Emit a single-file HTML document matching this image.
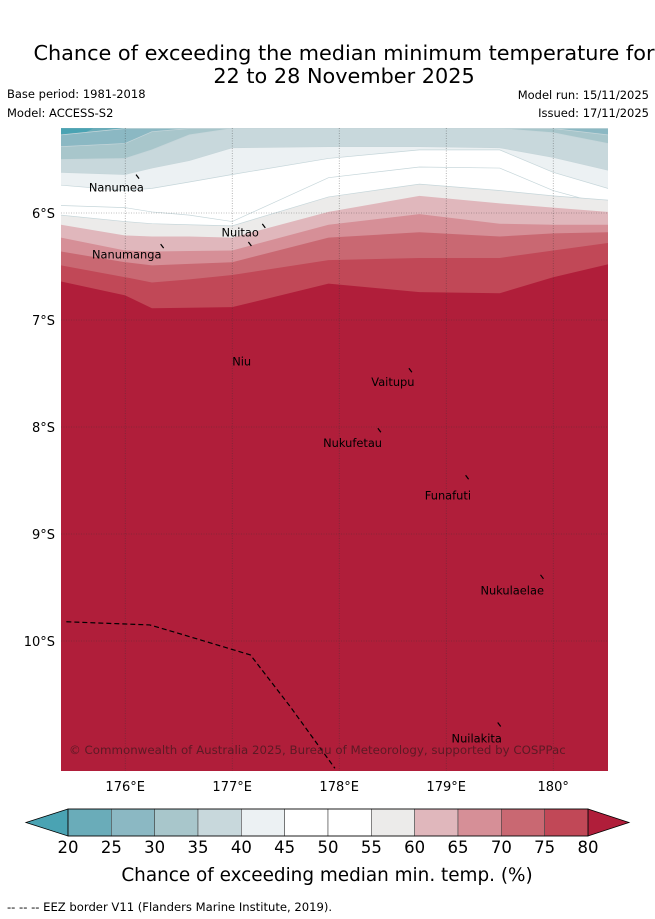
<!DOCTYPE html>
<html><head><meta charset="utf-8">
<style>
body{margin:0;background:#fff;width:655px;height:919px;overflow:hidden;font-family:"DejaVu Sans","Liberation Sans",sans-serif}
svg{position:absolute;left:0;top:0}
</style></head>
<body>
<svg id="chart" width="655" height="919" viewBox="0 0 655 919" font-family="DejaVu Sans, Liberation Sans, sans-serif">
<text x="344" y="60" font-size="20.8" text-anchor="middle">Chance of exceeding the median minimum temperature for</text>
<text x="344" y="83" font-size="20.8" text-anchor="middle">22 to 28 November 2025</text>
<text x="7" y="98" font-size="11.5">Base period: 1981-2018</text>
<text x="7" y="117" font-size="11.5">Model: ACCESS-S2</text>
<text x="649" y="99" font-size="11.5" text-anchor="end">Model run: 15/11/2025</text>
<text x="649" y="117" font-size="11.5" text-anchor="end">Issued: 17/11/2025</text>
<defs><clipPath id="mapclip"><rect x="61" y="128" width="547" height="643"/></clipPath></defs>
<g id="map" clip-path="url(#mapclip)"></g>
<g id="axes"></g>
<g id="cbar"></g>
<text x="327" y="881" font-size="18.4" text-anchor="middle">Chance of exceeding median min. temp. (%)</text>
<text x="7" y="911" font-size="11.6">--  --  -- EEZ border V11 (Flanders Marine Institute, 2019).</text>
</svg>
<script>
// ---- data ----
const lonCols = [175.4, 176.0, 176.25, 176.6, 177.0, 177.9, 178.75, 179.5, 180.0, 180.51];
const levels = [25, 30, 35, 40, 45, 50, 55, 60, 65, 70, 75, 80];
const b25 = [5.27, 5.21, 5.21, 5.21, 5.21, 5.21, 5.21, 5.21, 5.21, 5.21];
const b30 = [5.38, 5.35, 5.24, 5.21, 5.21, 5.21, 5.21, 5.21, 5.21, 5.27];
const b35 = [5.50, 5.49, 5.41, 5.27, 5.21, 5.21, 5.21, 5.21, 5.25, 5.35];
const b40 = [5.62, 5.64, 5.58, 5.51, 5.39, 5.38, 5.38, 5.39, 5.48, 5.60];
const b45 = [5.74, 5.79, 5.77, 5.71, 5.64, 5.49, 5.41, 5.41, 5.62, 5.77];
const b50 = [5.93, 5.95, 5.99, 6.02, 6.08, 5.67, 5.57, 5.58, 5.79, 5.93];
const b55 = [6.02, 6.08, 6.10, 6.11, 6.12, 5.85, 5.73, 5.79, 5.84, 5.88];
const b60 = [6.11, 6.21, 6.22, 6.22, 6.23, 5.99, 5.84, 5.91, 5.95, 5.99];
const b65 = [6.23, 6.35, 6.36, 6.355, 6.35, 6.11, 6.01, 6.10, 6.11, 6.11];
const b70 = [6.36, 6.46, 6.49, 6.475, 6.46, 6.23, 6.18, 6.22, 6.19, 6.18];
const b75 = [6.49, 6.60, 6.65, 6.62, 6.58, 6.44, 6.42, 6.42, 6.35, 6.28];
const b80 = [6.64, 6.77, 6.89, 6.885, 6.88, 6.66, 6.74, 6.75, 6.60, 6.48];
const boundaries = [b25, b30, b35, b40, b45, b50, b55, b60, b65, b70, b75, b80];
const bandColors = ['#8bb8c3','#a8c6cb','#c8d8dc','#ecf1f3','#ffffff','#ffffff','#ecebea','#e0b7bc','#d68f97','#c96872','#c14857','#b01e3a'];
const lowColor = '#6aacb9';
const cbarTicks = [20,25,30,35,40,45,50,55,60,65,70,75,80];
const cbarColors = ['#6aacb9','#8bb8c3','#a8c6cb','#c8d8dc','#ecf1f3','#ffffff','#ffffff','#ecebea','#e0b7bc','#d68f97','#c96872','#c14857'];
const lonTicks = [176,177,178,179,180];
const lonTickLabels = ['176°E','177°E','178°E','179°E','180°'];
const latTicks = [6,7,8,9,10];
const latTickLabels = ['6°S','7°S','8°S','9°S','10°S'];
const eezLon = [175.45,176.23,176.47,177.17,177.54,177.96];
const eezLat = [9.82,9.85,9.92,10.13,10.61,11.19];
const islandNames = ['Nanumea','Nuitao','Nanumanga','Niu','Vaitupu','Nukufetau','Funafuti','Nukulaelae','Nuilakita'];
const islandLon = [176.12,177.3,176.35,177.17,178.67,178.38,179.2,179.9,179.5];
const islandLat = [5.66,6.12,6.31,6.29,7.47,8.03,8.47,9.40,10.78];
const labelLon = [175.66,176.9,175.69,177.0,178.3,177.85,178.8,179.32,179.05];
const labelLat = [5.76,6.18,6.39,7.39,7.58,8.15,8.64,9.53,10.91];

// ---- axis functions ----
const X = lon => 61 + (lon - 175.4) * 107;
const Y = lat => 213 + (lat - 6) * 107;
const NS = 'http://www.w3.org/2000/svg';
function mk(tag, attrs, parent){const e=document.createElementNS(NS,tag);for(const k in attrs)e.setAttribute(k,attrs[k]);parent.appendChild(e);return e;}

const map = document.getElementById('map');
let bg = mk('rect',{x:61,y:128,width:547,height:643,fill:lowColor},map);


let corner = mk('path',{d:`M${X(175.4)},${Y(5.21)} L${X(175.7)},${Y(5.21)} L${X(175.62)},${Y(5.25)} L${X(175.4)},${Y(5.27)}Z`,fill:'#4aa3b3'},map);


boundaries.forEach((b,i)=>{
  let d = 'M'+lonCols.map((lon,j)=>X(lon)+','+Y(b[j])).join(' L');
  d += ` L${X(181)},${Y(b[b.length-1])} L${X(181)},${Y(12)} L${X(175)},${Y(12)} L${X(175)},${Y(b[0])} Z`;
  const p = mk('path',{d:d,fill:bandColors[i],stroke:i<7?'#c6d6da':'none','stroke-width':0.7},map);
  
  
});
lonTicks.forEach(l=>{const g=mk('line',{x1:X(l),x2:X(l),y1:128,y2:771,stroke:'#333','stroke-width':0.6,'stroke-dasharray':'1,1.5',opacity:0.6},map);

});
latTicks.forEach(l=>{const g=mk('line',{x1:61,x2:608,y1:Y(l),y2:Y(l),stroke:'#333','stroke-width':0.6,'stroke-dasharray':'1,1.5',opacity:0.6},map);

});
const eez = mk('polyline',{points:eezLon.map((l,i)=>X(l)+','+Y(eezLat[i])).join(' '),fill:'none',stroke:'#000','stroke-width':1.2,'stroke-dasharray':'5,3'},map);


islandNames.forEach((n,i)=>{
  const m = mk('line',{x1:X(islandLon[i])-2,y1:Y(islandLat[i])-2,x2:X(islandLon[i])+1,y2:Y(islandLat[i])+2,stroke:'#000','stroke-width':1.2},map);
  
  
  const t = mk('text',{x:X(labelLon[i]),y:Y(labelLat[i])+4,'font-size':11.4,fill:'#000'},map);
  t.textContent = n;
  
  
});
const cp = mk('text',{x:69,y:754,'font-size':11.8,fill:'#5c1a25'},map);
cp.textContent='© Commonwealth of Australia 2025, Bureau of Meteorology, supported by COSPPac';



const axes = document.getElementById('axes');
lonTicks.forEach((l,i)=>{const t=mk('text',{x:X(l),y:791,'font-size':13,'text-anchor':'middle'},axes);t.textContent=lonTickLabels[i];

});
latTicks.forEach((l,i)=>{const t=mk('text',{x:55,y:Y(l)+5,'font-size':13,'text-anchor':'end'},axes);t.textContent=latTickLabels[i];

});

const cb = document.getElementById('cbar');
const cx0=68, cx1=588, cy0=809, cy1=836;
const CX = v => cx0 + (v-20)/(80-20)*(cx1-cx0);
let lt = mk('polygon',{points:`${cx0},${cy0} 26,${(cy0+cy1)/2} ${cx0},${cy1}`,fill:'#4aa3b3',stroke:'#000','stroke-width':0.8},cb);


let rt = mk('polygon',{points:`${cx1},${cy0} 629,${(cy0+cy1)/2} ${cx1},${cy1}`,fill:'#b01e3a',stroke:'#000','stroke-width':0.8},cb);


cbarColors.forEach((c,i)=>{const r=mk('rect',{x:CX(cbarTicks[i]),y:cy0,width:CX(cbarTicks[i+1])-CX(cbarTicks[i]),height:cy1-cy0,fill:c,stroke:'#444','stroke-width':0.6},cb);

});
mk('rect',{x:cx0,y:cy0,width:cx1-cx0,height:cy1-cy0,fill:'none',stroke:'#000','stroke-width':0.8},cb);
cbarTicks.forEach(v=>{const t=mk('text',{x:CX(v),y:853,'font-size':16.5,'text-anchor':'middle'},cb);t.textContent=v;

});
</script>
</body></html>
